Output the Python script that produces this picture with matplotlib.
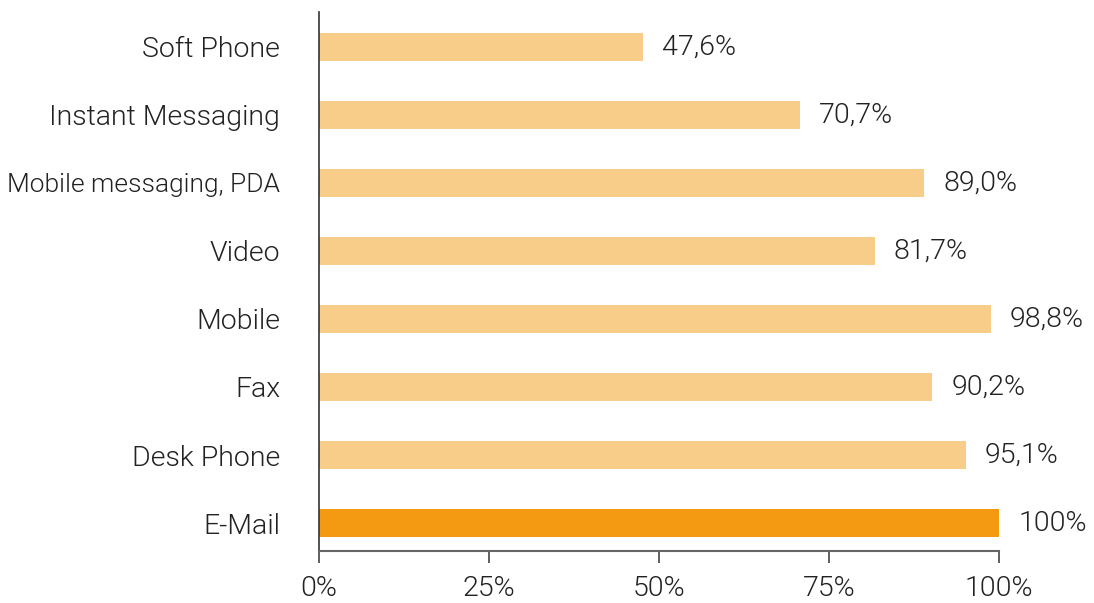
import matplotlib
matplotlib.use("Agg")
import matplotlib.pyplot as plt

categories = ["E-Mail", "Desk Phone", "Fax", "Mobile", "Video",
              "Mobile messaging, PDA", "Instant Messaging", "Soft Phone"]
values = [100.0, 95.1, 90.2, 98.8, 81.7, 89.0, 70.7, 47.6]
value_labels = ["100%", "95,1%", "90,2%", "98,8%", "81,7%", "89,0%", "70,7%", "47,6%"]
xticks = [0, 25, 50, 75, 100]
xtick_labels = ["0%", "25%", "50%", "75%", "100%"]

plt.rcParams['font.family'] = ['Roboto', 'DejaVu Sans']
plt.rcParams['font.weight'] = 300

fig = plt.figure(figsize=(10.94, 6.03), dpi=100)
ax = fig.add_axes([319 / 1094, 52 / 603, 680 / 1094, 539 / 603])

colors = ["#F39A12"] + ["#F8CD8A"] * (len(categories) - 1)
ypos = list(range(len(categories)))
ax.barh(ypos, values, height=0.41, color=colors)

for y, v, lab in zip(ypos, values, value_labels):
    ax.text(v + 2.8, y, lab, va='center', ha='left', fontsize=20.5, color='#222222')

ax.set_xlim(0, 100)
ax.set_ylim(-0.41, 7.51)
ax.set_yticks(ypos)
ax.set_yticklabels(categories, fontsize=20.5, color='#222222')
# the long label is set tighter in the original
for t in ax.get_yticklabels():
    if len(t.get_text()) > 18:
        t.set_fontsize(19)
ax.set_xticks(xticks)
ax.set_xticklabels(xtick_labels, fontsize=20.5, color='#222222')

ax.tick_params(axis='y', length=0, pad=28)
ax.tick_params(axis='x', length=8.6, width=1.2, color='#444444', pad=9)
for s in ['top', 'right']:
    ax.spines[s].set_visible(False)
ax.spines['left'].set_color('#333333')
ax.spines['left'].set_linewidth(1.2)
ax.spines['bottom'].set_color('#666666')
ax.spines['bottom'].set_linewidth(1.5)

fig.savefig("out.png", dpi=100)
